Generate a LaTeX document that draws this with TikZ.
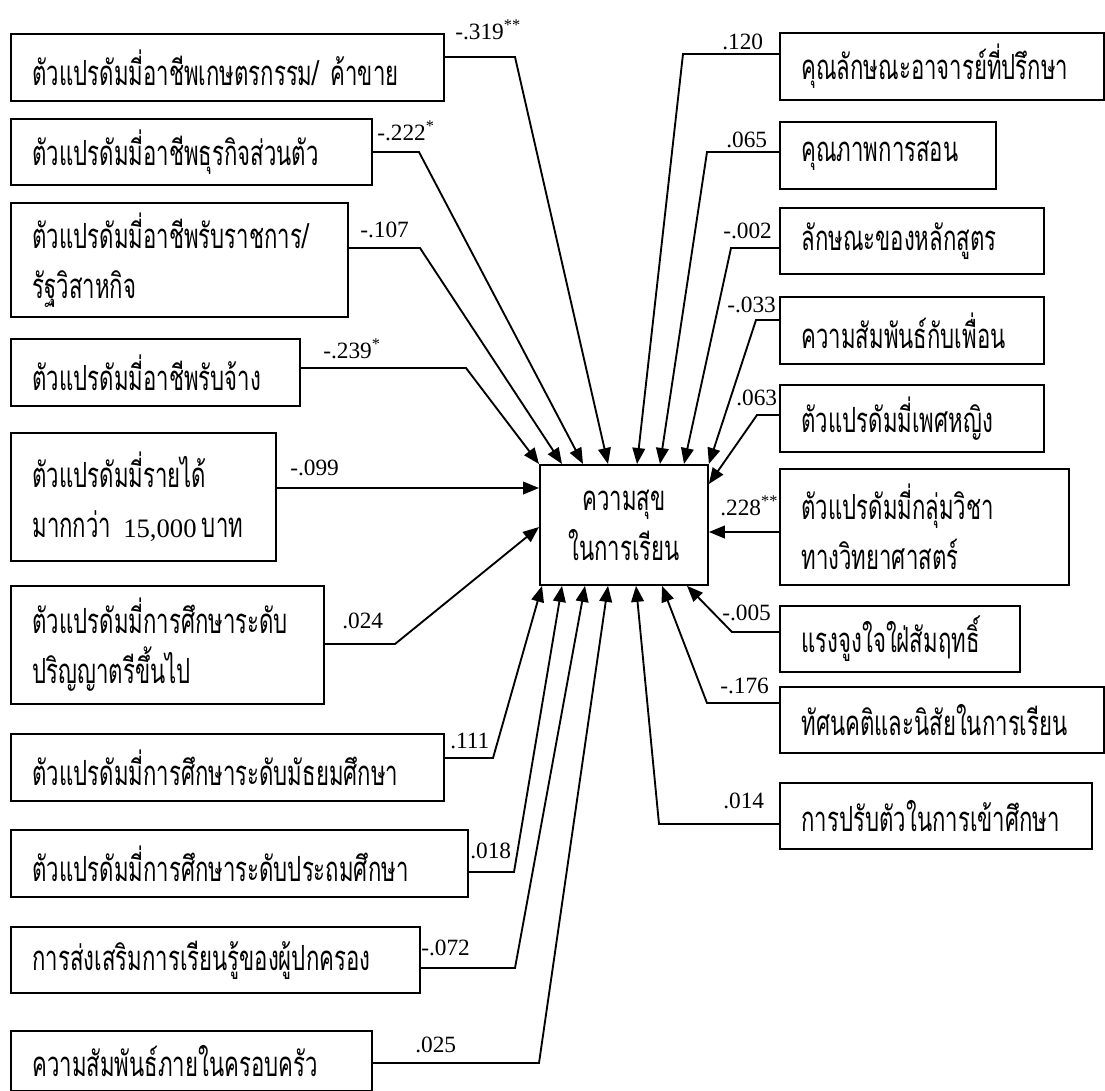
\documentclass[tikz,border=0pt]{standalone}
\usepackage{fontspec}
\setmainfont{Liberation Serif}
\newfontfamily\thai[Script=Thai,FakeStretch=0.64]{Loma}
\newfontfamily\numf{Liberation Serif}
\usetikzlibrary{arrows.meta}
\newcommand\thaifs{\thai\fontsize{26pt}{37.5pt}\selectfont}
\newcommand\numin[1]{{\numf\fontsize{20pt}{37.5pt}\selectfont #1}}
\newcommand\mybox[6]{%
  \pgfmathsetmacro\bw{(#4-#2)*0.75}%
  \pgfmathsetmacro\bh{(#5-#3)*0.75}%
  \pgfmathsetmacro\tw{(#4-#2-43)*0.75}%
  \node[box, anchor=north west, minimum width=\bw pt, minimum height=\bh pt,
        text width=\tw pt, inner xsep=16.125pt] (#1) at (#2,#3) {#6};%
}
\begin{document}
\begin{tikzpicture}[x=0.75pt,y=-0.75pt,
  box/.style={draw, line width=1.4pt, inner ysep=0pt, font=\thaifs, align=left},
  arr/.style={line width=1.4pt, -{Triangle[length=12pt,width=9.5pt]}},
  lab/.style={font=\numf\fontsize{17.5pt}{20pt}\selectfont, inner sep=0pt, anchor=base west}]
\useasboundingbox (0,0) rectangle (1105,1090);
\clip (0,0) rectangle (1105,1090);

% central box
\node[draw, line width=1.4pt, anchor=north west, minimum width=126pt, minimum height=90pt,
      inner sep=0pt, font=\thaifs, align=center] (c) at (539,464) {ความสุข\\ในการเรียน};

% left boxes
\mybox{b1}{10}{33}{443}{100}{ตัวแปรดัมมี่อาชีพเกษตรกรรม/ ค้าขาย}
\mybox{b2}{10}{118}{371}{184}{ตัวแปรดัมมี่อาชีพธุรกิจส่วนตัว}
\mybox{b3}{10}{202}{347}{316}{ตัวแปรดัมมี่อาชีพรับราชการ/\\รัฐวิสาหกิจ}
\mybox{b4}{10}{338}{299}{405}{ตัวแปรดัมมี่อาชีพรับจ้าง}
\mybox{b5}{10}{432}{275}{560}{ตัวแปรดัมมี่รายได้\\\mbox{มากกว่า\hspace{9pt}\numin{15,000}\hspace{4pt}บาท}}
\mybox{b6}{10}{585}{323}{703}{ตัวแปรดัมมี่การศึกษาระดับ\\ปริญญาตรีขึ้นไป}
\mybox{b7}{10}{733}{443}{800}{ตัวแปรดัมมี่การศึกษาระดับมัธยมศึกษา}
\mybox{b8}{10}{829}{467}{896}{ตัวแปรดัมมี่การศึกษาระดับประถมศึกษา}
\mybox{b9}{10}{926}{419}{992}{การส่งเสริมการเรียนรู้ของผู้ปกครอง}
\mybox{b10}{10}{1030}{371}{1090}{ความสัมพันธ์ภายในครอบครัว}

% right boxes
\mybox{r1}{779}{32}{1103}{99}{คุณลักษณะอาจารย์ที่ปรึกษา}
\mybox{r2}{779}{121}{995}{188}{คุณภาพการสอน}
\mybox{r3}{779}{207}{1043}{273}{ลักษณะของหลักสูตร}
\mybox{r4}{779}{296}{1043}{363}{ความสัมพันธ์กับเพื่อน}
\mybox{r5}{779}{384}{1043}{451}{ตัวแปรดัมมี่เพศหญิง}
\mybox{r6}{779}{468}{1068}{584}{ตัวแปรดัมมี่กลุ่มวิชา\\ทางวิทยาศาสตร์}
\mybox{r7}{779}{605}{1019}{671}{แรงจูงใจใฝ่สัมฤทธิ์}
\mybox{r8}{779}{686}{1103}{752}{ทัศนคติและนิสัยในการเรียน}
\mybox{r9}{779}{782}{1091}{848}{การปรับตัวในการเข้าศึกษา}

% connectors, left
\draw[arr] (b1.east |- 0,57) -- (515,57) -- (c.north -| 608,0);
\draw[arr] (b2.east |- 0,152) -- (419,152) -- (c.north -| 583,0);
\draw[arr] (b3.east |- 0,248) -- (420,248) -- (c.north -| 562,0);
\draw[arr] (b4.east |- 0,368) -- (466,368) -- (c.north west);
\draw[arr] (b5.east |- 0,488) -- (c.west |- 0,488);
\draw[arr] (b6.east |- 0,644) -- (395,644) -- (c.west |- 0,527);
\draw[arr] (b7.east |- 0,758) -- (493,758) -- (c.south -| 542,0);
\draw[arr] (b8.east |- 0,872) -- (514,872) -- (c.south -| 562,0);
\draw[arr] (b9.east |- 0,968) -- (515,968) -- (c.south -| 585,0);
\draw[arr] (b10.east |- 0,1063) -- (539,1063) -- (c.south -| 608,0);

% connectors, right
\draw[arr] (r1.west |- 0,54) -- (683,54) -- (c.north -| 637,0);
\draw[arr] (r2.west |- 0,152) -- (707,152) -- (c.north -| 660,0);
\draw[arr] (r3.west |- 0,248) -- (731,248) -- (c.north -| 684,0);
\draw[arr] (r4.west |- 0,320) -- (756,320) -- (c.north east);
\draw[arr] (r5.west |- 0,415) -- (757,415) -- (c.east |- 0,484);
\draw[arr] (r6.west |- 0,532) -- (c.east |- 0,532);
\draw[arr] (r7.west |- 0,632) -- (732,632) -- (c.south -| 687,0);
\draw[arr] (r8.west |- 0,703) -- (707,703) -- (c.south -| 662,0);
\draw[arr] (r9.west |- 0,824) -- (659,824) -- (c.south -| 636,0);

% labels
\node[lab] (l1) at (455,39) {-.319\textsuperscript{**}};
\node[lab] (l2) at (377,140) {-.222\textsuperscript{*}};
\node[lab] (l3) at (360,237) {-.107};
\node[lab] (l4) at (323,358) {-.239\textsuperscript{*}};
\node[lab] (l5) at (290,475) {-.099};
\node[lab] (l6) at (342,628) {.024};
\node[lab] (l7) at (450,748) {.111};
\node[lab] (l8) at (470,858) {.018};
\node[lab] (l9) at (421,955) {-.072};
\node[lab] (l10) at (415,1052) {.025};
\node[lab] (m1) at (722,49) {.120};
\node[lab] (m2) at (726,147) {.065};
\node[lab] (m3) at (723,238) {-.002};
\node[lab] (m4) at (727,312) {-.033};
\node[lab] (m5) at (736,405) {.063};
\node[lab] (m6) at (720,515) {.228\textsuperscript{**}};
\node[lab] (m7) at (722,620) {-.005};
\node[lab] (m8) at (720,693) {-.176};
\node[lab] (m9) at (723,808) {.014};
\end{tikzpicture}
\end{document}
